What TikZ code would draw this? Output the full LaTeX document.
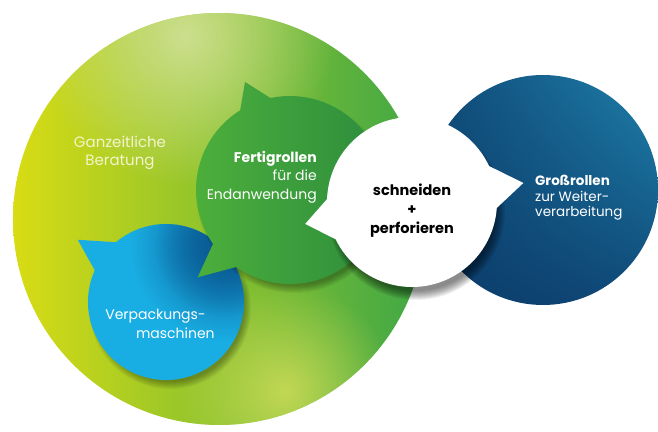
\documentclass[tikz,border=0pt]{standalone}
\usepackage{fontspec}
\setmainfont{Poppins}
\usetikzlibrary{calc,fadings,shadings}

\definecolor{gelb}{HTML}{D8DC14}
\definecolor{gelbgruen}{HTML}{BCD42A}
\definecolor{gruen}{HTML}{3EA746}
\definecolor{blassgruen}{HTML}{CCDF8E}
\definecolor{blassgelb}{HTML}{D6DF5C}
\definecolor{blattgruen}{HTML}{4CAF3B}
\definecolor{dunkelgruen}{HTML}{2A8A3D}
\definecolor{cyanhell}{HTML}{19AEE3}
\definecolor{cyandunkel}{HTML}{0A5A93}
\definecolor{navy}{HTML}{0B3B6A}
\definecolor{petrol}{HTML}{1F80AB}
\definecolor{hellschrift}{HTML}{F2F5CC}

\tikzfading[name=glanz, inner color=transparent!0, outer color=transparent!100]

\begin{document}
\begin{tikzpicture}[
    x=1pt, y=1pt,
    txt/.style={text=white, inner sep=0pt, font=\fontsize{14}{18.5}\selectfont},
    schatten/.style={black, opacity=0.045}
  ]
  \useasboundingbox (0,0) rectangle (658,431);

  % Mittelpunkte
  \coordinate (gross) at (219,212);
  \coordinate (rolle) at (543,241);
  \coordinate (fertig) at (290,241);
  \coordinate (verp) at (166,129);
  \coordinate (schnitt) at (412,229);

  % Grosser Kreis
  \shade[left color=gelb, middle color=gelbgruen, right color=gruen] (gross) circle (206pt);
  \begin{scope}
    \clip (gross) circle (206pt);
    \fill[blassgruen, path fading=glanz] (185,395) circle (150pt);
    \fill[blassgelb, path fading=glanz, opacity=.8] (285,40) circle (110pt);
  \end{scope}

  % Grossrollen
  \shade[upper right=petrol, lower left=navy, upper left=navy!80!petrol, lower right=navy!80!petrol]
    (rolle) circle (115pt);

  % Verpackungsmaschinen
  \foreach \s in {1,...,8}
    \fill[schatten] ($(verp)+(4,-6)$) circle (82pt-\s pt);
  \begin{scope}
    \clip ($(verp)+(156:78pt)$) arc[start angle=156, end angle=490, radius=78pt]
      -- ($(verp)+(144.8:108pt)$) -- cycle;
    \fill[cyanhell] (verp) circle (120pt);
    \fill[cyandunkel, path fading=glanz] (225,185) circle (95pt);
    \fill[cyandunkel, path fading=glanz] (225,185) circle (70pt);
  \end{scope}

  % Fertigrollen
  \foreach \s in {1,...,8}
    \fill[schatten] ($(fertig)+(4,-6)$) circle (98pt-\s pt);
  \shade[left color=blattgruen, right color=dunkelgruen]
    ($(fertig)+(122:94pt)$) arc[start angle=122, end angle=215, radius=94pt]
    -- ($(fertig)+(223.4:127pt)$) -- ($(fertig)+(235:94pt)$)
    arc[start angle=235, end angle=462, radius=94pt]
    -- ($(fertig)+(112.6:117pt)$) -- cycle;

  % Schneiden + perforieren
  \foreach \s in {1,...,10}
    \fill[schatten, opacity=.06] ($(schnitt)+(4,-9)$) circle (90pt-\s pt);
  \fill[white]
    ($(schnitt)+(206:85pt)$) arc[start angle=206, end angle=356, radius=85pt]
    -- ($(schnitt)+(9.7:113pt)$) -- ($(schnitt)+(25:85pt)$)
    arc[start angle=25, end angle=178, radius=85pt]
    -- ($(schnitt)+(191.6:109pt)$) -- cycle;

  % Texte
  \node[txt, text=hellschrift, align=center, font=\fontsize{15}{18}\selectfont] (beratung)
    at (120,278) {Ganzeitliche\\Beratung};
  \node[txt, align=right, anchor=east] (fertigtext) at (317,254)
    {\textbf{Fertigrollen}\\für die\\Endanwendung};
  \node[txt, align=right] (verptext) at (160,107) {Verpackungs-\hspace*{9pt}\\maschinen};
  \node[txt, text=black, align=center, font=\bfseries\fontsize{14.5}{19}\selectfont] (schnitttext)
    at (412,220) {schneiden\\+\\perforieren};
  \node[txt, align=left, anchor=west, font=\fontsize{13.5}{15.5}\selectfont] (rolletext)
    at (535,233) {\textbf{Großrollen}\\zur Weiter-\\verarbeitung};
\end{tikzpicture}
\end{document}
